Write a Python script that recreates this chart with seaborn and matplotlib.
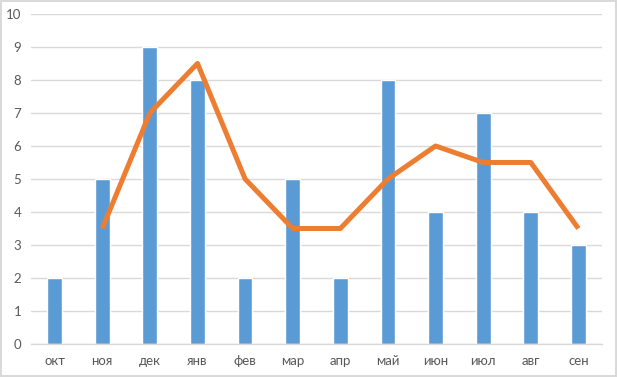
import numpy as np
import pandas as pd
import matplotlib
matplotlib.use('Agg')
import matplotlib.pyplot as plt
import seaborn as sns

# данные
months = ['окт', 'ноя', 'дек', 'янв', 'фев', 'мар', 'апр', 'май', 'июн', 'июл', 'авг', 'сен']
values = [2, 5, 9, 8, 2, 5, 2, 8, 4, 7, 4, 3]
trend = [np.nan, 3.5, 7, 8.5, 5, 3.5, 3.5, 5, 6, 5.5, 5.5, 3.5]
y_ticks = list(range(0, 11))

sns.set_theme(style='white')
plt.rcParams['font.family'] = ['Lato', 'DejaVu Sans']

df = pd.DataFrame({'month': months, 'value': values, 'trend': trend})

fig = plt.figure(figsize=(6.17, 3.77), dpi=100)
fig.patch.set_edgecolor('#D9D9D9')
fig.patch.set_linewidth(1.5)
ax = fig.add_axes([0.050, 0.0875, 0.926, 0.8755])

sns.barplot(data=df, x='month', y='value', color='#5B9BD5', saturation=1,
            width=0.31, ax=ax, zorder=2)
sns.lineplot(x=np.arange(len(months)), y=df['trend'], color='#ED7D31',
             linewidth=3.6, ax=ax, zorder=3, solid_joinstyle='round',
             solid_capstyle='butt')

ax.set_ylim(0, 10)
ax.set_xlim(-0.5, len(months) - 0.5)
ax.set_yticks(y_ticks)
ax.yaxis.grid(True, color='#D9D9D9', linewidth=1)
ax.set_axisbelow(True)
for s in ['top', 'right', 'left']:
    ax.spines[s].set_visible(False)
ax.spines['bottom'].set_color('#D9D9D9')
ax.spines['bottom'].set_linewidth(1)
ax.set_xlabel('')
ax.set_ylabel('')
ax.tick_params(axis='both', length=0, labelsize=9.5, labelcolor='#595959')
ax.tick_params(axis='y', pad=7)
ax.tick_params(axis='x', pad=8)

fig.savefig('out.png', dpi=100)
